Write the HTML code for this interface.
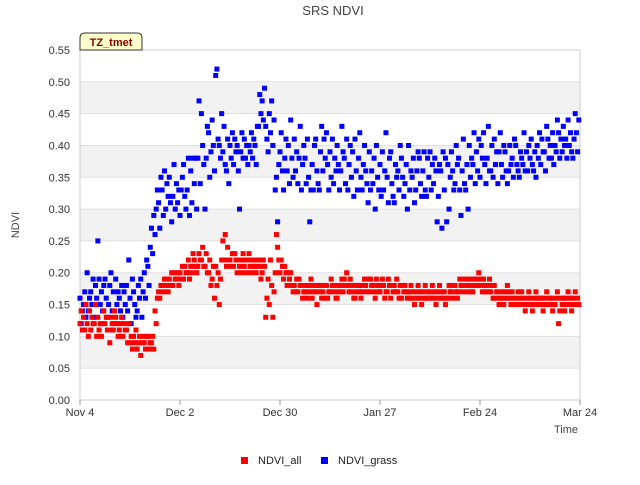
<!DOCTYPE html>
<html><head><meta charset="utf-8"><style>
body{margin:0;background:#fff;font-family:"Liberation Sans",sans-serif;}
svg text{font-family:"Liberation Sans",sans-serif;}
</style></head><body>
<svg id="chart" width="640" height="480" xmlns="http://www.w3.org/2000/svg">
<text x="333" y="15" font-size="13" fill="#444" text-anchor="middle">SRS NDVI</text>
<g id="bands"></g>
<g id="grid"></g>
<g id="yaxis"></g>
<g id="xaxis"></g>
<g id="points"></g>
<text x="19" y="225" font-size="11" fill="#444" text-anchor="middle" transform="rotate(-90 19 225)">NDVI</text>
<text x="578" y="433" font-size="11" fill="#444" text-anchor="end">Time</text>
<g>
<path d="M80,50 L80,38 Q80,33 85,33 L137,33 Q142,33 142,38 L142,50 Z" fill="#ffffcc" stroke="#333" stroke-width="1"/>
<text x="111" y="46" font-size="11" font-weight="bold" fill="#8b0000" text-anchor="middle">TZ_tmet</text>
</g>
<g>
<g><rect x="241" y="457" width="7" height="7" fill="#ff0000"/><text x="258" y="464" font-size="11" fill="#222">NDVI_all</text></g>
<g><rect x="321" y="457" width="7" height="7" fill="#0000ff"/><text x="338" y="464" font-size="11" fill="#222">NDVI_grass</text></g>
</g>
</svg>
<script>
const yTicks=[0,0.05,0.10,0.15,0.20,0.25,0.30,0.35,0.40,0.45,0.50,0.55];
const xTickDays=[0,28,56,84,112,140];
const xTickLabels=["Nov 4","Dec 2","Dec 30","Jan 27","Feb 24","Mar 24"];
const ndviAll=[[.12,.14,.11],[.13,.11,.15],[.12,.10,.14],[.11,.13,.12],[.12,.15,.10],[.13,.11,.12],[.10,.12,.14],[.12,.13,.11],[.11,.09,.13],[.12,.11,.14],[.13,.12,.10],[.11,.12,.13],[.10,.12,.11],[.11,.09,.12],[.09,.10,.08],[.10,.09,.11],[.08,.09,.10],[.07,.09,.10],[.09,.08,.10],[.10,.08,.09],[.09,.10,.08],[.14,.12,.16],[.17,.16,.18],[.18,.17,.19],[.18,.19,.17],[.19,.18,.20],[.18,.20,.19],[.19,.20,.18],[.20,.19,.21],[.19,.21,.20],[.20,.22,.19],[.21,.20,.23],[.22,.21,.20],[.21,.23,.22],[.22,.24,.21],[.21,.23,.20],[.20,.22,.18],[.19,.21,.16],[.21,.18,.20],[.15,.19,.22],[.25,.22,.26],[.21,.24,.22],[.22,.21,.23],[.21,.23,.22],[.20,.22,.21],[.22,.20,.23],[.21,.22,.20],[.22,.23,.21],[.20,.22,.21],[.21,.20,.22],[.22,.21,.19],[.20,.22,.21],[.13,.16,.19],[.15,.22,.18],[.13,.17,.20],[.26,.24,.22],[.20,.22,.21],[.19,.21,.20],[.18,.20,.19],[.20,.18,.17],[.18,.17,.19],[.17,.19,.18],[.18,.16,.17],[.17,.18,.16],[.18,.17,.19],[.16,.18,.17],[.17,.15,.18],[.18,.17,.16],[.17,.18,.16],[.18,.16,.17],[.17,.19,.18],[.18,.17,.16],[.16,.18,.17],[.18,.19,.17],[.19,.18,.20],[.18,.17,.19],[.17,.18,.16],[.16,.17,.18],[.18,.17,.16],[.17,.18,.19],[.18,.17,.19],[.17,.19,.18],[.18,.17,.16],[.19,.18,.17],[.17,.18,.19],[.18,.16,.17],[.17,.19,.18],[.16,.18,.17],[.18,.17,.19],[.17,.16,.18],[.16,.18,.17],[.18,.17,.16],[.17,.16,.18],[.16,.17,.15],[.17,.16,.18],[.16,.17,.15],[.17,.16,.18],[.16,.17,.16],[.17,.16,.18],[.16,.17,.15],[.17,.16,.18],[.16,.17,.16],[.17,.15,.16],[.16,.18,.17],[.17,.16,.18],[.18,.17,.16],[.17,.19,.18],[.18,.17,.19],[.19,.18,.17],[.18,.19,.17],[.17,.18,.19],[.19,.18,.20],[.18,.19,.17],[.19,.18,.17],[.18,.17,.19],[.17,.18,.16],[.18,.16,.17],[.17,.15,.16],[.16,.17,.15],[.17,.16,.18],[.16,.17,.15],[.17,.16,.15],[.16,.15,.17],[.15,.16,.17],[.16,.15,.14],[.15,.16,.17],[.16,.15,.14],[.15,.16,.17],[.16,.15,.16],[.15,.16,.14],[.16,.15,.17],[.15,.16,.15],[.16,.14,.15],[.15,.16,.17],[.12,.14,.16],[.15,.16,.14],[.16,.15,.17],[.15,.16,.14],[.16,.15,.17],[.15,.16,.15]];
const ndviGrass=[[.16,.12,.14],[.15,.17,.13],[.20,.14,.16],[.17,.15,.19],[.13,.18,.16],[.25,.19,.15],[.17,.14,.18],[.19,.16,.13],[.15,.18,.20],[.14,.17,.12],[.19,.15,.17],[.16,.14,.18],[.13,.17,.15],[.18,.14,.22],[.16,.12,.19],[.17,.15,.13],[.14,.18,.16],[.19,.13,.17],[.20,.16,.22],[.21,.18,.24],[.27,.23,.29],[.26,.30,.33],[.31,.27,.35],[.33,.29,.36],[.30,.34,.32],[.35,.31,.28],[.32,.37,.30],[.34,.31,.33],[.29,.33,.35],[.37,.32,.30],[.33,.38,.29],[.36,.31,.38],[.34,.38,.30],[.38,.47,.34],[.45,.40,.37],[.30,.38,.43],[.42,.35,.39],[.44,.40,.36],[.51,.52,.41],[.40,.38,.45],[.39,.43,.37],[.36,.41,.34],[.40,.38,.42],[.37,.41,.39],[.40,.36,.30],[.39,.42,.38],[.41,.38,.40],[.37,.40,.39],[.42,.38,.41],[.40,.37,.43],[.43,.48,.45],[.47,.44,.49],[.43,.41,.39],[.45,.42,.47],[.40,.44,.33],[.35,.28,.37],[.39,.42,.36],[.33,.38,.41],[.36,.40,.34],[.44,.38,.35],[.41,.36,.39],[.34,.38,.43],[.33,.37,.40],[.38,.34,.41],[.35,.28,.33],[.37,.33,.40],[.41,.36,.34],[.33,.39,.43],[.36,.41,.38],[.42,.37,.33],[.39,.35,.41],[.34,.38,.36],[.40,.37,.33],[.36,.43,.39],[.38,.34,.41],[.33,.37,.40],[.35,.39,.32],[.41,.36,.33],[.38,.42,.35],[.33,.37,.40],[.36,.34,.31],[.39,.33,.36],[.34,.38,.30],[.40,.35,.33],[.37,.32,.39],[.33,.36,.42],[.35,.31,.38],[.39,.34,.32],[.31,.37,.35],[.36,.33,.40],[.38,.35,.32],[.34,.37,.30],[.40,.33,.36],[.35,.38,.31],[.33,.36,.39],[.38,.34,.32],[.36,.39,.33],[.32,.38,.35],[.39,.33,.37],[.34,.38,.36],[.28,.32,.37],[.36,.27,.39],[.33,.38,.28],[.37,.30,.35],[.39,.36,.33],[.34,.40,.37],[.38,.33,.29],[.36,.41,.34],[.33,.37,.30],[.40,.35,.38],[.37,.42,.34],[.39,.36,.41],[.35,.40,.38],[.42,.37,.34],[.38,.43,.36],[.36,.40,.35],[.41,.37,.39],[.34,.39,.42],[.37,.35,.40],[.39,.36,.34],[.36,.40,.37],[.38,.35,.41],[.40,.37,.36],[.35,.39,.38],[.37,.42,.36],[.39,.36,.40],[.38,.41,.37],[.36,.39,.35],[.40,.38,.42],[.37,.41,.39],[.39,.36,.43],[.41,.38,.40],[.38,.42,.37],[.40,.39,.44],[.42,.38,.41],[.39,.43,.40],[.41,.38,.44],[.40,.42,.39],[.38,.41,.45],[.42,.39,.44]];

const NS="http://www.w3.org/2000/svg";
const X0=80,X1=580,Y0=400,Y1=50,DMAX=140,VMAX=0.55;
const xs=d=>X0+(d/DMAX)*(X1-X0);
const ys=v=>Y0-(v/VMAX)*(Y0-Y1);
function mk(tag,attrs,parent){const e=document.createElementNS(NS,tag);for(const k in attrs)e.setAttribute(k,attrs[k]);parent.appendChild(e);return e;}
const bands=document.getElementById('bands'),grid=document.getElementById('grid'),ya=document.getElementById('yaxis'),xa=document.getElementById('xaxis'),pts=document.getElementById('points');
for(let i=0;i<yTicks.length-1;i++){
  if(i%2===1){const r=mk('rect',{x:X0,y:ys(yTicks[i+1]),width:X1-X0,height:ys(yTicks[i])-ys(yTicks[i+1]),fill:'#f2f2f2'},bands);
  
  }
}
yTicks.forEach(v=>{
  const l=mk('line',{x1:X0,x2:X1,y1:ys(v),y2:ys(v),stroke:'#e0e0e0','stroke-width':1},grid);
  
  
  const t=mk('text',{x:X0-10,y:ys(v)+4,'font-size':11,fill:'#333','text-anchor':'end'},ya);
  t.textContent=v.toFixed(2);
  
  
});
mk('rect',{x:X0,y:Y1,width:X1-X0,height:Y0-Y1,fill:'none',stroke:'#ccc'},grid);
xTickDays.forEach((d,i)=>{
  mk('line',{x1:xs(d),x2:xs(d),y1:Y0,y2:Y0+5,stroke:'#999'},xa);
  const t=mk('text',{x:xs(d),y:Y0+16,'font-size':11,fill:'#333','text-anchor':'middle'},xa);
  t.textContent=xTickLabels[i];
  
  
});
function draw(series,color,name){
  series.forEach((vals,d)=>{vals.forEach((v,k)=>{
    const dd=d+k/vals.length;
    const r=mk('rect',{x:xs(dd)-2.5,y:ys(v)-2.5,width:5,height:5,fill:color},pts);
    
    
  });});
}
draw(ndviGrass,'#0000ff','ndvi-grass-point');
draw(ndviAll,'#ff0000','ndvi-all-point');
</script>
</body></html>
